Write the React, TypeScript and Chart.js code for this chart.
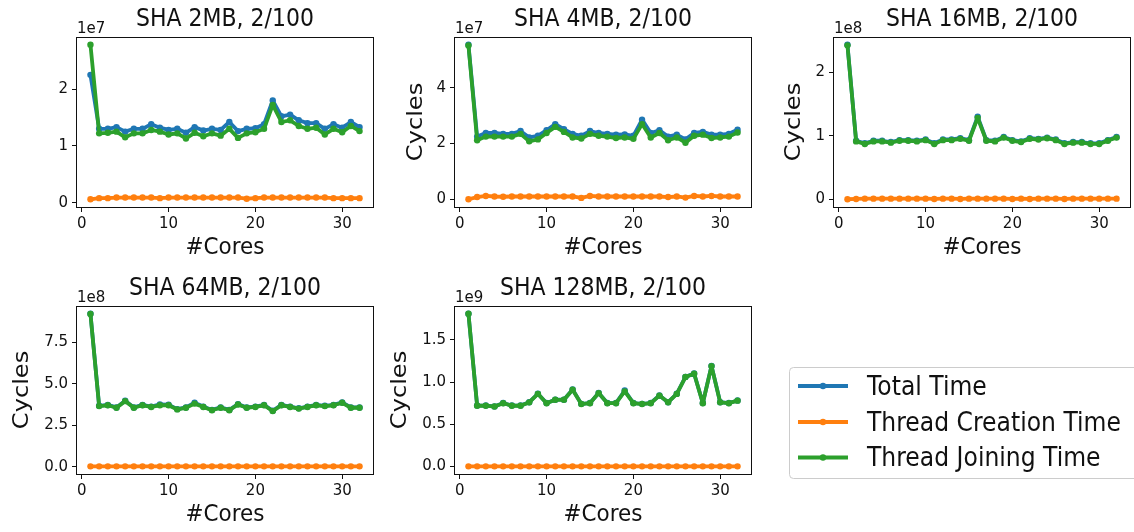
import React, { useEffect, useRef } from 'react';
import { Chart, registerables } from 'chart.js';

Chart.register(...registerables);

// ---------------- data ----------------
const cores = [1, 2, 3, 4, 5, 6, 7, 8, 9, 10, 11, 12, 13, 14, 15, 16, 17, 18, 19, 20, 21, 22, 23, 24, 25, 26, 27, 28, 29, 30, 31, 32];
const xTicks = [0, 10, 20, 30];
const seriesLabels = ['Total Time', 'Thread Creation Time', 'Thread Joining Time'];

// SHA 2MB (units of 1e7 cycles)
const sha2Total = [2.25, 1.30, 1.30, 1.33, 1.25, 1.30, 1.30, 1.38, 1.32, 1.28, 1.30, 1.23, 1.33, 1.27, 1.30, 1.28, 1.42, 1.26, 1.30, 1.31, 1.38, 1.80, 1.52, 1.55, 1.45, 1.40, 1.40, 1.30, 1.38, 1.32, 1.42, 1.33];
const sha2Creation = [0.06, 0.08, 0.08, 0.09, 0.09, 0.09, 0.09, 0.09, 0.08, 0.09, 0.09, 0.09, 0.09, 0.09, 0.09, 0.09, 0.09, 0.09, 0.07, 0.08, 0.09, 0.09, 0.09, 0.09, 0.09, 0.09, 0.09, 0.09, 0.08, 0.08, 0.08, 0.08];
const sha2Joining = [2.78, 1.22, 1.23, 1.25, 1.15, 1.22, 1.22, 1.28, 1.25, 1.20, 1.22, 1.13, 1.23, 1.17, 1.22, 1.18, 1.30, 1.14, 1.22, 1.24, 1.30, 1.72, 1.42, 1.45, 1.35, 1.30, 1.32, 1.20, 1.30, 1.24, 1.35, 1.26];
const sha2YTicks = [0, 1, 2];

// SHA 4MB (units of 1e7 cycles)
const sha4Total = [5.55, 2.25, 2.38, 2.38, 2.35, 2.35, 2.45, 2.22, 2.28, 2.48, 2.70, 2.52, 2.35, 2.28, 2.45, 2.38, 2.35, 2.32, 2.33, 2.28, 2.86, 2.38, 2.48, 2.25, 2.32, 2.15, 2.38, 2.42, 2.32, 2.32, 2.35, 2.50];
const sha4Creation = [0.00, 0.08, 0.12, 0.10, 0.09, 0.10, 0.10, 0.10, 0.10, 0.10, 0.10, 0.10, 0.10, 0.05, 0.12, 0.10, 0.10, 0.10, 0.10, 0.10, 0.10, 0.10, 0.10, 0.08, 0.10, 0.06, 0.12, 0.10, 0.12, 0.10, 0.10, 0.10];
const sha4Joining = [5.52, 2.12, 2.25, 2.25, 2.25, 2.25, 2.35, 2.08, 2.15, 2.38, 2.60, 2.42, 2.22, 2.18, 2.35, 2.28, 2.25, 2.20, 2.22, 2.17, 2.70, 2.22, 2.38, 2.12, 2.22, 2.03, 2.28, 2.32, 2.20, 2.22, 2.25, 2.40];
const sha4YTicks = [0, 2, 4];

// SHA 16MB (units of 1e8 cycles)
const sha16Total = [2.43, 0.92, 0.88, 0.92, 0.92, 0.90, 0.93, 0.93, 0.92, 0.94, 0.88, 0.94, 0.94, 0.96, 0.93, 1.30, 0.93, 0.92, 0.98, 0.93, 0.91, 0.96, 0.95, 0.97, 0.94, 0.88, 0.90, 0.90, 0.88, 0.88, 0.93, 0.98];
const sha16Creation = [0.000, 0.005, 0.010, 0.010, 0.010, 0.010, 0.010, 0.010, 0.010, 0.010, 0.005, 0.010, 0.010, 0.005, 0.010, 0.010, 0.010, 0.010, 0.010, 0.005, 0.010, 0.005, 0.010, 0.010, 0.010, 0.005, 0.010, 0.010, 0.010, 0.010, 0.010, 0.010];
const sha16Joining = [2.42, 0.91, 0.87, 0.91, 0.91, 0.89, 0.92, 0.92, 0.91, 0.93, 0.87, 0.93, 0.93, 0.95, 0.92, 1.28, 0.92, 0.91, 0.97, 0.92, 0.90, 0.95, 0.94, 0.96, 0.93, 0.87, 0.89, 0.89, 0.87, 0.87, 0.92, 0.97];
const sha16YTicks = [0, 1, 2];

// SHA 64MB (units of 1e8 cycles)
const sha64Total = [9.22, 3.67, 3.72, 3.57, 3.97, 3.57, 3.72, 3.62, 3.75, 3.74, 3.47, 3.57, 3.85, 3.62, 3.42, 3.57, 3.42, 3.77, 3.57, 3.62, 3.72, 3.37, 3.72, 3.62, 3.52, 3.62, 3.72, 3.67, 3.72, 3.87, 3.57, 3.57];
const sha64Creation = [0.02, 0.02, 0.02, 0.02, 0.02, 0.02, 0.02, 0.02, 0.02, 0.02, 0.02, 0.02, 0.02, 0.02, 0.02, 0.02, 0.02, 0.02, 0.02, 0.02, 0.02, 0.02, 0.02, 0.02, 0.02, 0.02, 0.02, 0.02, 0.02, 0.02, 0.02, 0.02];
const sha64Joining = [9.20, 3.65, 3.70, 3.55, 3.95, 3.55, 3.70, 3.60, 3.70, 3.70, 3.45, 3.55, 3.80, 3.60, 3.40, 3.55, 3.40, 3.75, 3.55, 3.60, 3.70, 3.35, 3.70, 3.60, 3.50, 3.60, 3.70, 3.65, 3.70, 3.85, 3.55, 3.55];
const sha64YTicks = [0, 2.5, 5, 7.5];

// SHA 128MB (units of 1e9 cycles)
const sha128Total = [1.812, 0.722, 0.722, 0.712, 0.752, 0.722, 0.722, 0.762, 0.862, 0.752, 0.792, 0.792, 0.912, 0.742, 0.752, 0.872, 0.752, 0.752, 0.900, 0.752, 0.742, 0.752, 0.842, 0.762, 0.862, 1.062, 1.102, 0.752, 1.192, 0.762, 0.752, 0.782];
const sha128Creation = [0.001, 0.001, 0.001, 0.001, 0.001, 0.001, 0.001, 0.001, 0.001, 0.001, 0.001, 0.001, 0.001, 0.001, 0.001, 0.001, 0.001, 0.001, 0.001, 0.001, 0.001, 0.001, 0.001, 0.001, 0.001, 0.001, 0.001, 0.001, 0.001, 0.001, 0.001, 0.001];
const sha128Joining = [1.81, 0.72, 0.72, 0.71, 0.75, 0.72, 0.72, 0.76, 0.86, 0.75, 0.79, 0.79, 0.91, 0.74, 0.75, 0.87, 0.75, 0.75, 0.89, 0.75, 0.74, 0.75, 0.84, 0.76, 0.86, 1.06, 1.10, 0.75, 1.19, 0.76, 0.75, 0.78];
const sha128YTicks = [0, 0.5, 1, 1.5];

const panelTitles = ['SHA 2MB, 2/100', 'SHA 4MB, 2/100', 'SHA 16MB, 2/100', 'SHA 64MB, 2/100', 'SHA 128MB, 2/100'];
const panelExponents = ['1e7', '1e7', '1e8', '1e8', '1e9'];

// ---------------- layout / style ----------------
const W = 1134;
const H = 532;
const Y_W = 50;
const X_H = 30;
const FONT = '"DejaVu Sans", sans-serif';
const TEXT = '#111111';
const COLORS = ['#1f77b4', '#ff7f0e', '#2ca02c'];

const panels = [
  { total: sha2Total, creation: sha2Creation, joining: sha2Joining, yTicks: sha2YTicks, decimals: 0, box: { l: 77, t: 37, r: 373, b: 207 }, yTitleGap: 0 },
  { total: sha4Total, creation: sha4Creation, joining: sha4Joining, yTicks: sha4YTicks, decimals: 0, box: { l: 455, t: 37, r: 751, b: 207 }, yTitleGap: 39 },
  { total: sha16Total, creation: sha16Creation, joining: sha16Joining, yTicks: sha16YTicks, decimals: 0, box: { l: 834, t: 37, r: 1130, b: 207 }, yTitleGap: 40 },
  { total: sha64Total, creation: sha64Creation, joining: sha64Joining, yTicks: sha64YTicks, decimals: 1, box: { l: 77, t: 306, r: 373, b: 474 }, yTitleGap: 55 },
  { total: sha128Total, creation: sha128Creation, joining: sha128Joining, yTicks: sha128YTicks, decimals: 1, box: { l: 455, t: 306, r: 751, b: 474 }, yTitleGap: 55 },
];

function drawText(ctx: CanvasRenderingContext2D, text: string, x: number, y: number, size: number, align: CanvasTextAlign, baseline: CanvasTextBaseline, rotate: boolean, stretch: number) {
  ctx.save();
  ctx.translate(x, y);
  if (rotate) {
    ctx.rotate(-Math.PI / 2);
    ctx.scale(stretch, 1);
  } else {
    ctx.scale(1, stretch);
  }
  ctx.font = `${size}px ${FONT}`;
  ctx.fillStyle = TEXT;
  ctx.textAlign = align;
  ctx.textBaseline = baseline;
  ctx.fillText(text, 0, 0);
  ctx.restore();
}

const decor = {
  id: 'decor',
  afterDraw(chart: any, _args: any, opts: any) {
    const { ctx, chartArea: a } = chart;
    ctx.save();
    ctx.strokeStyle = TEXT;
    ctx.lineWidth = 1;
    ctx.strokeRect(Math.round(a.left) - 0.5, Math.round(a.top) + 0.5, Math.round(a.right - a.left) + 1, Math.round(a.bottom - a.top));
    ctx.restore();
    const cx = (a.left + a.right) / 2;
    const cy = (a.top + a.bottom) / 2;
    drawText(ctx, opts.title, cx, a.top - 17, 22, 'center', 'middle', false, 1.1);
    drawText(ctx, opts.exponent, a.left, a.top - 4, 15, 'left', 'alphabetic', false, 1.05);
    drawText(ctx, '#Cores', cx, a.bottom + 41, 21.5, 'center', 'middle', false, 1.1);
    if (opts.yTitleGap > 0) {
      drawText(ctx, 'Cycles', a.left - opts.yTitleGap, cy, 21.5, 'center', 'middle', true, 1.12);
    }
  },
};

function Panel({ index }: { index: number }) {
  const ref = useRef<HTMLCanvasElement>(null);
  useEffect(() => {
    const p = panels[index];
    const all = [...p.total, ...p.creation, ...p.joining];
    const lo = Math.min(...all);
    const hi = Math.max(...all);
    const ym = (hi - lo) * 0.05;
    const xlo = Math.min(...cores);
    const xhi = Math.max(...cores);
    const xm = (xhi - xlo) * 0.05;
    const series = [p.total, p.creation, p.joining];
    const chart = new Chart(ref.current as HTMLCanvasElement, {
      type: 'line',
      data: {
        datasets: series.map((vals, si) => ({
          label: seriesLabels[si],
          data: cores.map((c, i) => ({ x: c, y: vals[i] })),
          borderColor: COLORS[si],
          backgroundColor: COLORS[si],
          borderWidth: 3.8,
          borderJoinStyle: 'round',
          borderCapStyle: 'round',
          pointRadius: 3.2,
          pointBorderWidth: 0,
          pointHoverRadius: 3.2,
          tension: 0,
          fill: false,
          order: 2 - si,
        })),
      },
      options: {
        animation: false,
        responsive: false,
        devicePixelRatio: 1,
        events: [],
        layout: {
          padding: { left: p.box.l - Y_W, top: p.box.t, right: W - p.box.r, bottom: H - p.box.b - X_H },
        },
        plugins: {
          legend: { display: false },
          tooltip: { enabled: false },
          decor: { title: panelTitles[index], exponent: panelExponents[index], yTitleGap: p.yTitleGap },
        } as any,
        scales: {
          x: {
            type: 'linear',
            min: xlo - xm,
            max: xhi + xm,
            afterBuildTicks: (s: any) => { s.ticks = xTicks.map((v) => ({ value: v })); },
            afterFit: (s: any) => { s.height = X_H; },
            ticks: { font: { family: FONT, size: 15 }, color: TEXT, padding: 3, maxRotation: 0, autoSkip: false, callback: (v: any) => String(v) },
            grid: { drawOnChartArea: false, drawTicks: true, tickLength: 5, color: TEXT, lineWidth: 1 },
            border: { display: false },
          },
          y: {
            type: 'linear',
            min: lo - ym,
            max: hi + ym,
            afterBuildTicks: (s: any) => { s.ticks = p.yTicks.map((v) => ({ value: v })); },
            afterFit: (s: any) => { s.width = Y_W; },
            ticks: { font: { family: FONT, size: 15 }, color: TEXT, padding: 4, autoSkip: false, callback: (v: any) => Number(v).toFixed(p.decimals) },
            grid: { drawOnChartArea: false, drawTicks: true, tickLength: 5, color: TEXT, lineWidth: 1 },
            border: { display: false },
          },
        },
      } as any,
      plugins: [decor],
    });
    return () => chart.destroy();
  }, [index]);
  return <canvas ref={ref} width={W} height={H} style={{ position: 'absolute', left: 0, top: 0 }} />;
}

function Legend() {
  const ys = [386, 422, 457.5];
  return (
    <svg width={W} height={H} style={{ position: 'absolute', left: 0, top: 0 }}>
      <rect x={789.5} y={367.5} width={420} height={111} rx={4} ry={4} fill="#ffffff" stroke="#cccccc" strokeWidth={1} />
      {seriesLabels.map((label, i) => (
        <g key={label}>
          <line x1={798} x2={848} y1={ys[i]} y2={ys[i]} stroke={COLORS[i]} strokeWidth={3.8} />
          <circle cx={823} cy={ys[i]} r={3.2} fill={COLORS[i]} />
          <text
            transform={`translate(867 ${ys[i]}) scale(1 1.1)`}
            x={0}
            y={0}
            dominantBaseline="central"
            fontFamily={FONT}
            fontSize={23.5}
            fill={TEXT}
          >
            {label}
          </text>
        </g>
      ))}
    </svg>
  );
}

export default function App() {
  return (
    <div style={{ position: 'absolute', left: 0, top: 0, width: W, height: H, background: '#ffffff', overflow: 'hidden' }}>
      {panels.map((_, i) => (
        <Panel key={i} index={i} />
      ))}
      <Legend />
    </div>
  );
}
